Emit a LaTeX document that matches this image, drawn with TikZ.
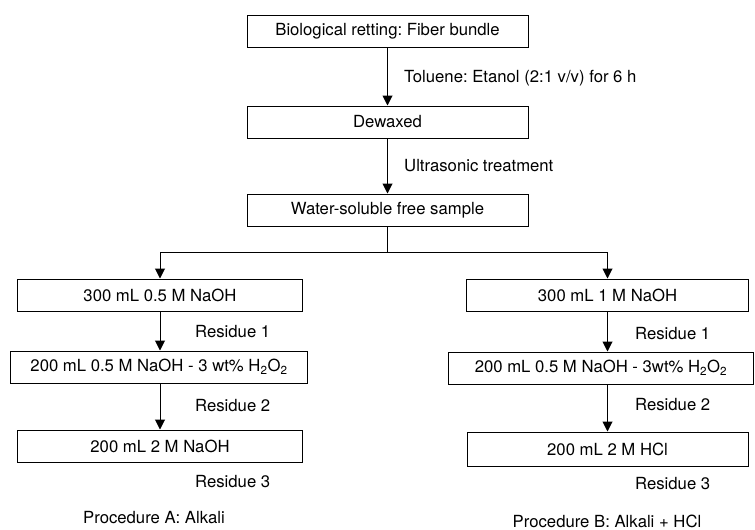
\documentclass[tikz,border=0pt]{standalone}
\usepackage{fontspec}
\setmainfont{TeX Gyre Heros}
\usepackage{tikz}
\usetikzlibrary{arrows.meta}
\frenchspacing

\begin{document}
\begin{tikzpicture}[x=1pt, y=-1pt,
        every node/.style={font=\fontsize{16.7}{20}\selectfont}]
        \tikzstyle{boxStyle} = [rectangle,draw=black,fill=white,line width=1,
            minimum height=32, inner sep=0pt]
        \tikzstyle{textStyle} = [anchor=base west, inner sep=0pt]
        \tikzstyle{titleStyle} = [anchor=base, inner sep=0pt]
        \tikzstyle{blackEdge} = [draw=black, line width=1]
        \tikzstyle{blackArrow} = [draw=black, line width=1,
            -{Triangle[length=10pt,width=10pt]}]
        \useasboundingbox (0,0) rectangle (755,530);
        \node[boxStyle, minimum width=281] (bundle) at (387.5,31) {Biological retting: Fiber bundle};
        \node[boxStyle, minimum width=281] (dewaxed) at (387.5,122) {Dewaxed};
        \node[boxStyle, minimum width=281] (sample) at (387.5,210) {Water-soluble free sample};
        \coordinate (split) at (387.5,252);
        \node[boxStyle, minimum width=285] (A1) at (160,295) {300 mL 0.5 M NaOH};
        \node[boxStyle, minimum width=297] (A2) at (159,367) {200 mL 0.5 M NaOH - 3 wt\% H\textsubscript{2}O\textsubscript{2}};
        \node[boxStyle, minimum width=285] (A3) at (160,446) {200 mL 2 M NaOH};
        \node[boxStyle, minimum width=282] (B1) at (607.5,295) {300 mL 1 M NaOH};
        \node[boxStyle, minimum width=305] (B2) at (601,368) {200 mL 0.5 M NaOH - 3wt\% H\textsubscript{2}O\textsubscript{2}};
        \node[boxStyle, minimum width=281, minimum height=34] (B3) at (607.5,449) {200 mL 2 M HCl};
        \node[textStyle] (toluene) at (404,82) {Toluene: Etanol (2:1 v/v) for 6 h};
        \node[textStyle] (ultra) at (404,171) {Ultrasonic treatment};
        \node[textStyle] (resA1) at (195,337) {Residue 1};
        \node[textStyle] (resA2) at (195,411) {Residue 2};
        \node[textStyle] (resA3) at (195,487) {Residue 3};
        \node[textStyle] (resB1) at (635,339) {Residue 1};
        \node[textStyle] (resB2) at (635,410) {Residue 2};
        \node[textStyle] (resB3) at (635,489) {Residue 3};
        \node[titleStyle] (procA) at (154,523) {Procedure A: Alkali};
        \node[titleStyle] (procB) at (607,527) {Procedure B: Alkali + HCl};
        \path[blackArrow] (bundle) edge (dewaxed);
        \path[blackArrow] (dewaxed) edge (sample);
        \path[blackEdge] (sample) edge (split);
        \draw[blackArrow] (split) -| (A1.north);
        \draw[blackArrow] (split) -| (B1.north);
        \draw[blackArrow] (A1.south) -- (A1.south |- A2.north);
        \draw[blackArrow] (A2.south -| A1.south) -- (A3.north);
        \draw[blackArrow] (B1.south) -- (B1.south |- B2.north);
        \draw[blackArrow] (B2.south -| B1.south) -- (B3.north);
    \end{tikzpicture}
\end{document}
